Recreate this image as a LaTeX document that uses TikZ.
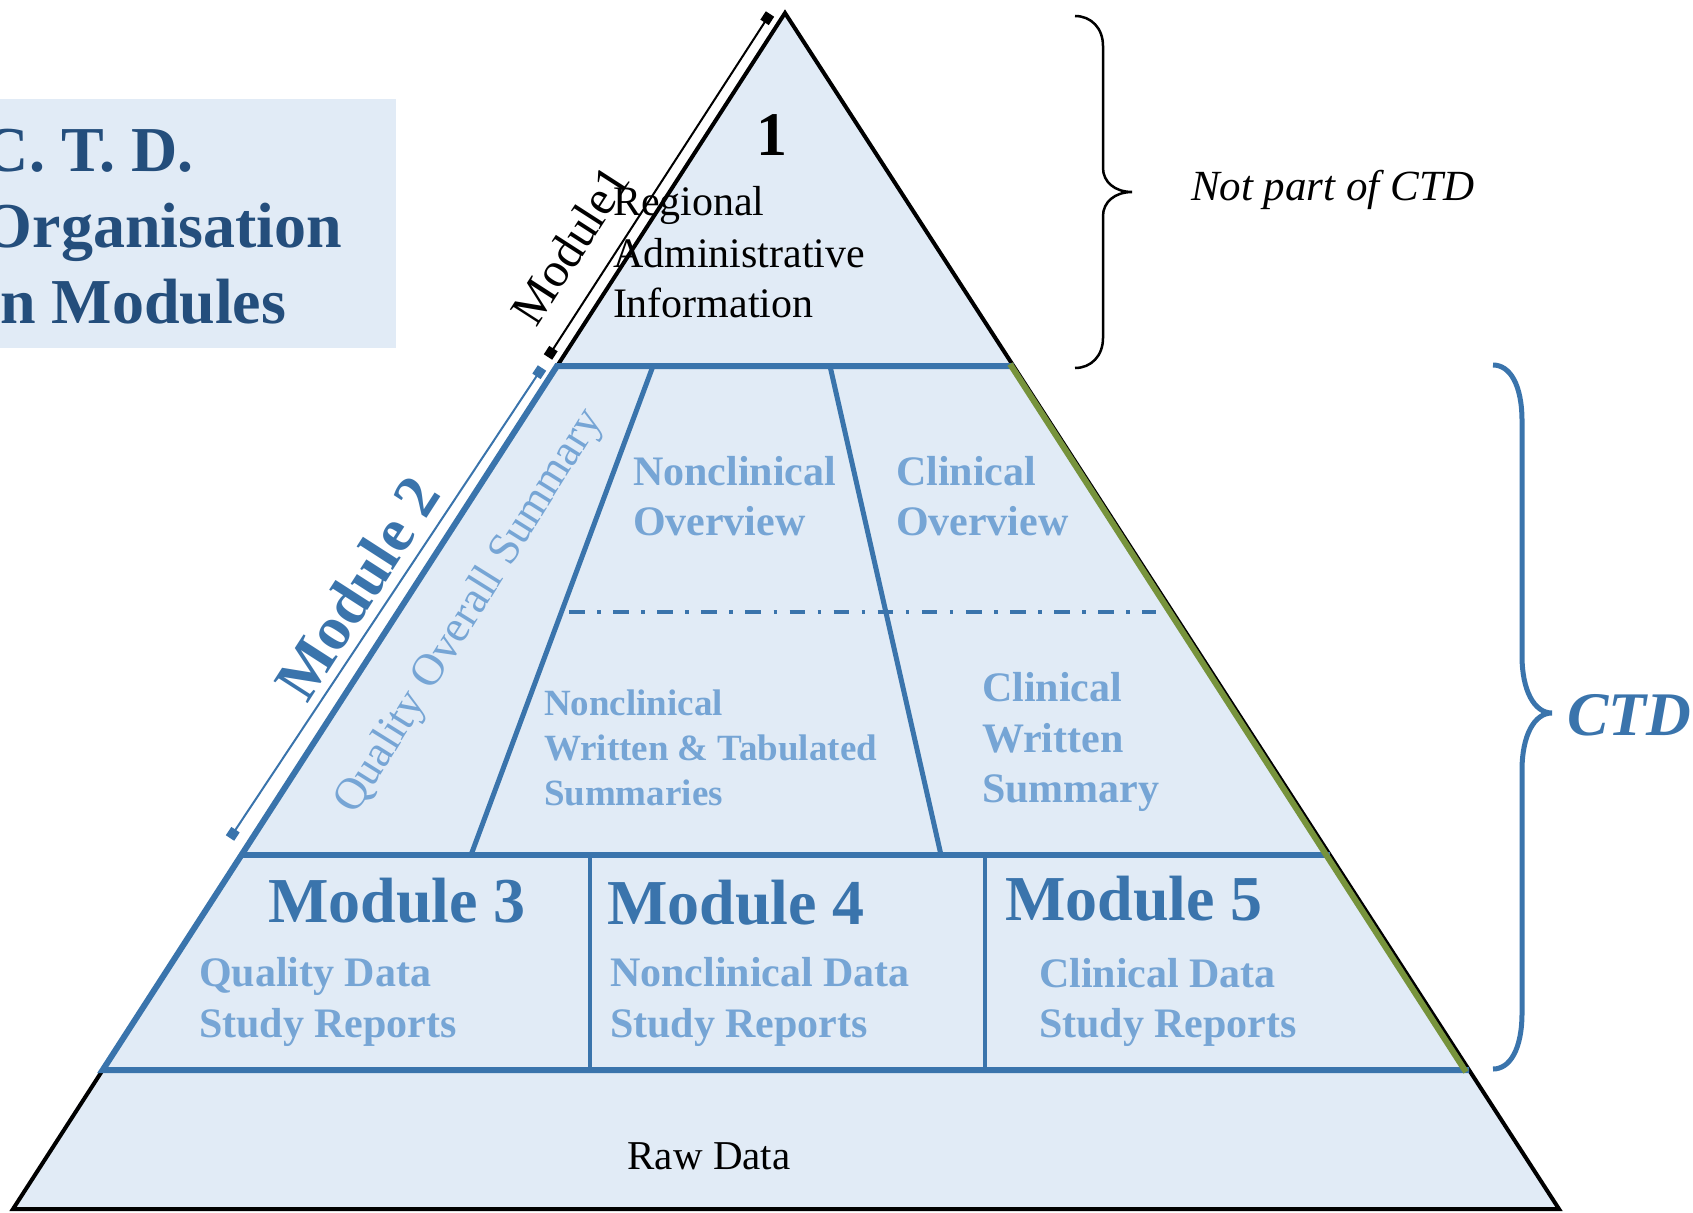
\documentclass[tikz,border=0pt]{standalone}
\usepackage{fontspec}
\setmainfont{Liberation Serif}
\usetikzlibrary{arrows.meta}

\definecolor{paleblue}{HTML}{E1EBF6}
\definecolor{lineblue}{HTML}{3A74AC}
\definecolor{textblue}{HTML}{76A5D5}
\definecolor{titleblue}{HTML}{244E7C}
\definecolor{edgegreen}{HTML}{77933C}

% font size in pt (the picture is drawn 1pt per unit)
\newcommand{\fsz}[1]{\fontsize{#1}{#1}\selectfont}

\tikzset{
  txt/.style={inner sep=0pt, outer sep=0pt},
  titletext/.style={txt, anchor=base west, font=\fsz{64}\bfseries, text=titleblue},
  blacktext/.style={txt, anchor=base west, font=\fsz{42}, text=black},
  subtext/.style={txt, anchor=base west, font=\fsz{42}\bfseries, text=textblue},
  smallsub/.style={txt, anchor=base west, font=\fsz{37}\bfseries, text=textblue},
  modhead/.style={txt, anchor=base west, font=\fsz{64}\bfseries, text=lineblue},
  outline/.style={draw=black, line width=4pt, line join=miter},
  bandline/.style={draw=lineblue, line width=6pt},
  divider/.style={draw=lineblue, line width=5pt},
  coldivider/.style={draw=lineblue, line width=4.5pt},
  dashdot/.style={draw=lineblue, line width=4pt,
    dash pattern=on 15.6pt off 12.5pt on 3.5pt off 12.5pt},
  sqtip/.style={{Square[length=10pt,width=10pt]}-{Square[length=10pt,width=10pt]}},
}

\begin{document}
\begin{tikzpicture}[x=1pt, y=-1pt]
\useasboundingbox (0,0) rectangle (1693,1212);

% ---------- title panel ----------
\fill[paleblue] (0,99) rectangle (396,348);
\node[titletext] (title1) at (-17,171) {C. T. D.};
\node[titletext] (title2) at (-17,247) {Organisation};
\node[titletext] (title3) at (0,323) {n Modules};

% ---------- pyramid ----------
\coordinate (apex) at (785,13);
\coordinate (bl) at (13,1209);
\coordinate (br) at (1559,1209);
\fill[paleblue] (apex) -- (bl) -- (br) -- cycle;
\draw[outline] (apex) -- (bl) -- (br) -- cycle;

% level points on the two sides
\coordinate (l1) at (557,366);   \coordinate (r1) at (1013.5,366);
\coordinate (l2) at (241.5,855); \coordinate (r2) at (1330,855);
\coordinate (l3) at (102.7,1070);\coordinate (r3) at (1469,1070);

% Module 2 and Modules 3-5 bands
\draw[bandline] (r1) -- (l1) -- (l3) -- (r3);
\draw[bandline] (l2) -- (r2);

% right side of the CTD part
\draw[edgegreen, line width=6pt] (1010,364) -- (1466,1072);

% Module 2 internal divisions
\draw[divider] (653,366) -- (471,855);
\draw[divider] (830,366) -- (941,855);
\draw[dashdot] (569,612) -- (1156,612);

% Modules 3-5 columns
\draw[coldivider] (590,855) -- (590,1070);
\draw[coldivider] (985,855) -- (985,1070);

% ---------- Module 1 ----------
\node[txt, anchor=base, font=\fsz{62}\bfseries] (m1num) at (772,155) {1};
\node[blacktext] (reg1) at (613,215) {Regional};
\node[blacktext] (reg2) at (613,267) {Administrative};
\node[blacktext] (reg3) at (613,317) {Information};

\coordinate (m1lo) at (548,357);
\coordinate (m1hi) at (770,14);
\draw[black, line width=2pt, sqtip] (m1lo) -- (m1hi);
\node[txt, font=\fsz{49}, rotate=57.2] (m1lbl) at (570,245) {Module1};

% ---------- Module 2 ----------
\coordinate (m2lo) at (230,838);
\coordinate (m2hi) at (542,368);
\draw[lineblue, line width=2pt, sqtip] (m2lo) -- (m2hi);
\node[txt, font=\fsz{62}\bfseries, text=lineblue, rotate=57.2] (m2lbl) at (357,588) {Module 2};
\node[txt, font=\fsz{45}, text=textblue, rotate=58] (qos) at (470,612) {Quality Overall Summary};

\node[subtext] (nco1) at (633,485) {Nonclinical};
\node[subtext] (nco2) at (633,535) {Overview};
\node[subtext] (co1) at (896,485) {Clinical};
\node[subtext] (co2) at (896,535) {Overview};

\node[smallsub] (nws1) at (544,715) {Nonclinical};
\node[smallsub] (nws2) at (544,760) {Written \& Tabulated};
\node[smallsub] (nws3) at (544,805) {Summaries};

\node[subtext] (cws1) at (982,701) {Clinical};
\node[subtext] (cws2) at (982,752) {Written};
\node[subtext] (cws3) at (982,802) {Summary};

% ---------- Modules 3, 4, 5 ----------
\node[modhead] (m3) at (268,922) {Module 3};
\node[subtext] (m3a) at (199,986) {Quality Data};
\node[subtext] (m3b) at (199,1037) {Study Reports};

\node[modhead] (m4) at (607,924) {Module 4};
\node[subtext] (m4a) at (610,986) {Nonclinical Data};
\node[subtext] (m4b) at (610,1037) {Study Reports};

\node[modhead] (m5) at (1005,920) {Module 5};
\node[subtext] (m5a) at (1039,987) {Clinical Data};
\node[subtext] (m5b) at (1039,1037) {Study Reports};

% ---------- base ----------
\node[txt, anchor=base, font=\fsz{41}] (raw) at (709,1169) {Raw Data};

% ---------- braces ----------
\draw[black, line width=2.5pt]
  (1075,16) .. controls (1091,16) and (1103,28) .. (1103,46)
  -- (1103,168) .. controls (1103,182) and (1115,192) .. (1132,192)
  .. controls (1115,192) and (1103,202) .. (1103,216)
  -- (1103,338) .. controls (1103,356) and (1091,368) .. (1075,368);
\node[txt, anchor=base west, font=\fsz{43}\itshape] (notctd) at (1191,200) {Not part of CTD};

\draw[lineblue, line width=5pt]
  (1493,365) .. controls (1510,365) and (1522,385) .. (1522,421)
  -- (1522,656) .. controls (1522,690) and (1534,713) .. (1552,713)
  .. controls (1534,713) and (1522,736) .. (1522,770)
  -- (1522,1013) .. controls (1522,1049) and (1510,1069) .. (1493,1069);
\node[txt, anchor=base west, font=\fsz{62}\bfseries\itshape, text=lineblue] (ctd) at (1567,735) {CTD};

\end{tikzpicture}
\end{document}
